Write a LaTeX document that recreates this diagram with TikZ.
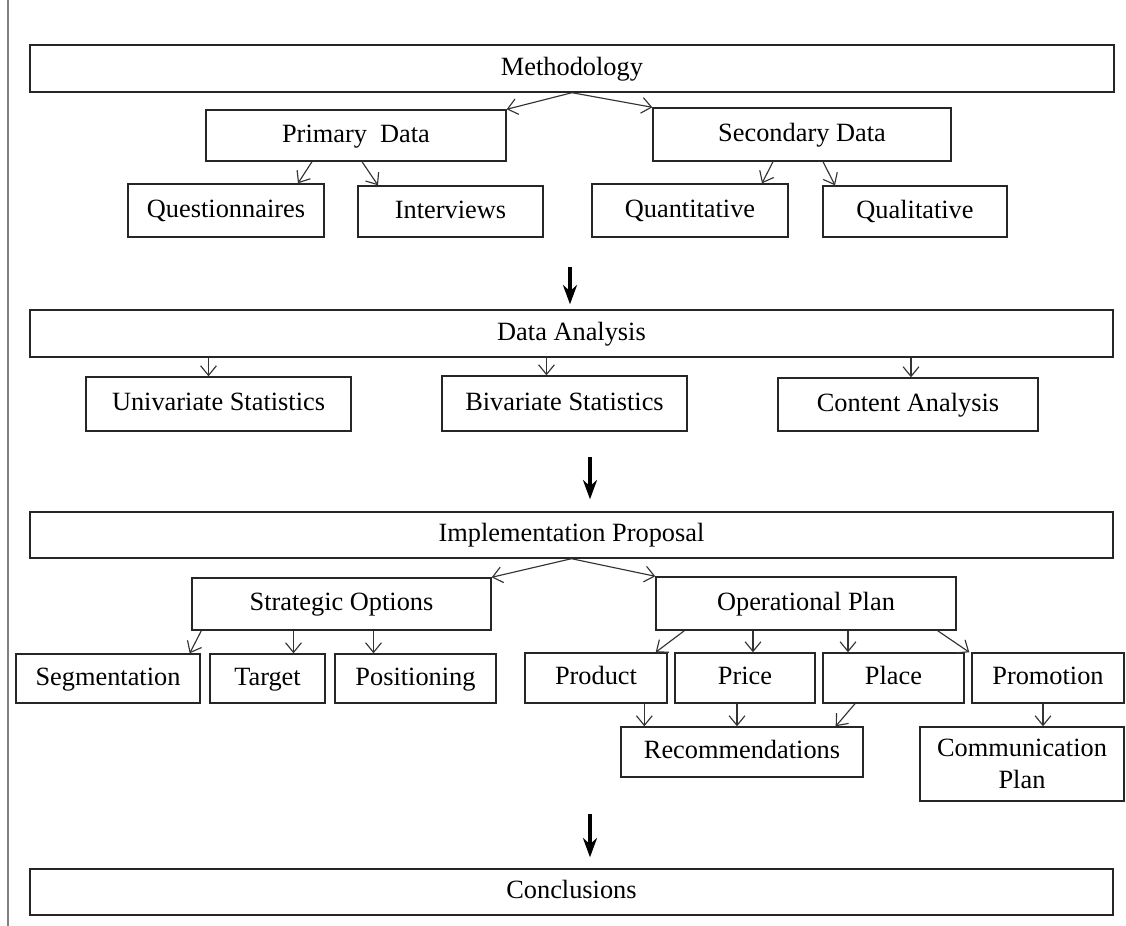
\documentclass[tikz,border=0pt]{standalone}
\usepackage{fontspec}
\setmainfont{Liberation Serif}
\usetikzlibrary{calc, positioning, arrows.meta}

\begin{document}
\begin{tikzpicture}[
        x=0.02cm, y=-0.02cm,
        box/.style={rectangle, draw=black!85, line width=0.8pt, inner sep=0pt, align=center, text height=2.3ex, text depth=0.6ex, font=\fontsize{15}{18}\selectfont},
        arrow/.style={-{Straight Barb[length=5.5pt, width=9pt]}, draw=black!80, line width=0.65pt},
        bigarrow/.style={-{Stealth[length=11pt, width=8pt]}, line width=2pt}
    ]
    \useasboundingbox (0,0) rectangle (1126,926);
    \draw[gray, line width=1.2pt] (8,0) -- (8,926);

    % Methodology
    \node[box, minimum width=21.68cm, minimum height=0.94cm] (meth) at (572,68.5) {Methodology};
    \node[box, minimum width=6cm, minimum height=1.02cm] (prim) at (356,135.5) {Primary\ \ Data};
    \node[box, minimum width=5.96cm, minimum height=1.06cm] (sec) at (802,134.5) {Secondary Data};
    \node[box, minimum width=3.92cm, minimum height=1.06cm] (quest) at (226,210.5) {Questionnaires};
    \node[box, minimum width=3.7cm, minimum height=1.02cm] (inter) at (450.5,211.5) {Interviews};
    \node[box, minimum width=3.92cm, minimum height=1.06cm] (quant) at (690,210.5) {Quantitative};
    \node[box, minimum width=3.68cm, minimum height=1.02cm] (qual) at (915,211.5) {Qualitative};

    % Data Analysis
    \node[box, minimum width=21.66cm, minimum height=0.94cm] (da) at (571.5,333.5) {Data Analysis};
    \node[box, minimum width=5.3cm, minimum height=1.08cm] (uni) at (218.5,404) {Univariate Statistics};
    \node[box, minimum width=4.9cm, minimum height=1.1cm] (bi) at (564.5,403.5) {Bivariate Statistics};
    \node[box, minimum width=5.2cm, minimum height=1.06cm] (cont) at (908,404.5) {Content Analysis};

    % Implementation Proposal
    \node[box, minimum width=21.66cm, minimum height=0.92cm] (impl) at (571.5,535) {Implementation Proposal};
    \node[box, minimum width=5.98cm, minimum height=1.04cm] (strat) at (341.5,604) {Strategic Options};
    \node[box, minimum width=6cm, minimum height=1.06cm] (oper) at (806,603.5) {Operational Plan};
    \node[box, minimum width=3.68cm, minimum height=0.98cm] (seg) at (108,678.5) {Segmentation};
    \node[box, minimum width=2.3cm, minimum height=0.98cm] (targ) at (267.5,678.5) {Target};
    \node[box, minimum width=3.22cm, minimum height=0.98cm] (pos) at (415.5,678.5) {Positioning};
    \node[box, minimum width=2.84cm, minimum height=1cm] (prod) at (596,678) {Product};
    \node[box, minimum width=2.8cm, minimum height=1cm] (price) at (745,678) {Price};
    \node[box, minimum width=2.82cm, minimum height=1cm] (place) at (893.5,678) {Place};
    \node[box, minimum width=3.04cm, minimum height=1cm] (promo) at (1048,678) {Promotion};
    \node[box, minimum width=4.84cm, minimum height=1cm] (rec) at (742,752) {Recommendations};
    \node[box, text height=, text depth=, minimum width=4.08cm, minimum height=1.48cm] (comm) at (1022,764) {Communication\\Plan};

    % Conclusions
    \node[box, minimum width=21.66cm, minimum height=0.92cm] (concl) at (571.5,892) {Conclusions};

    % arrows
    \draw[arrow] (meth.south) -- (prim.north east);
    \draw[arrow] (meth.south) -- (sec.north west);
    \draw[arrow] ($(prim.south)+(-44,0)$) -- ($(quest.north)+(72,0)$);
    \draw[arrow] ($(prim.south)+(6,0)$) -- ($(inter.north)+(-72.5,0)$);
    \draw[arrow] ($(sec.south)+(-29,0)$) -- ($(quant.north)+(72,0)$);
    \draw[arrow] ($(sec.south)+(21,0)$) -- ($(qual.north)+(-80,0)$);

    \draw[bigarrow] ([xshift=-0.03cm, yshift=0.84cm]da.north) -- ([xshift=-0.03cm, yshift=0.1cm]da.north);
    \draw[arrow] ([xshift=-0.2cm]uni.north |- da.south) -- ([xshift=-0.2cm]uni.north);
    \draw[arrow] ([xshift=-0.36cm]bi.north |- da.south) -- ([xshift=-0.36cm]bi.north);
    \draw[arrow] ([xshift=0.06cm]cont.north |- da.south) -- ([xshift=0.06cm]cont.north);

    \draw[bigarrow] ([xshift=0.37cm, yshift=1.08cm]impl.north) -- ([xshift=0.37cm, yshift=0.24cm]impl.north);
    \draw[arrow] (impl.south) -- (strat.north east);
    \draw[arrow] (impl.south) -- (oper.north west);
    \draw[arrow] ($(strat.south west)+(10,0)$) -- ($(seg.north east)+(-11,0)$);
    \draw[arrow] ([xshift=0.52cm]targ.north |- strat.south) -- ([xshift=0.52cm]targ.north);
    \draw[arrow] ([xshift=-0.84cm]pos.north |- strat.south) -- ([xshift=-0.84cm]pos.north);
    \draw[arrow] ($(oper.south west)+(29,0)$) -- ($(prod.north east)+(-12,0)$);
    \draw[arrow] ([xshift=0.16cm]price.north |- oper.south) -- ([xshift=0.16cm]price.north);
    \draw[arrow] ([xshift=-0.91cm]place.north |- oper.south) -- ([xshift=-0.91cm]place.north);
    \draw[arrow] ($(oper.south east)+(-19,0)$) -- ($(promo.north west)+(-2,0)$);
    \draw[arrow] ([xshift=0.48cm]rec.north west |- prod.south) -- ([xshift=0.48cm]rec.north west);
    \draw[arrow] ([xshift=-0.1cm]rec.north |- price.south) -- ([xshift=-0.1cm]rec.north);
    \draw[arrow] ($(place.south)+(-38.5,0)$) -- ($(rec.north east)+(-28,0)$);
    \draw[arrow] ([xshift=-0.1cm]promo.south) -- ([xshift=-0.1cm]promo.south |- comm.north);

    \draw[bigarrow] ([xshift=0.37cm, yshift=1.08cm]concl.north) -- ([xshift=0.37cm, yshift=0.22cm]concl.north);
\end{tikzpicture}
\end{document}
